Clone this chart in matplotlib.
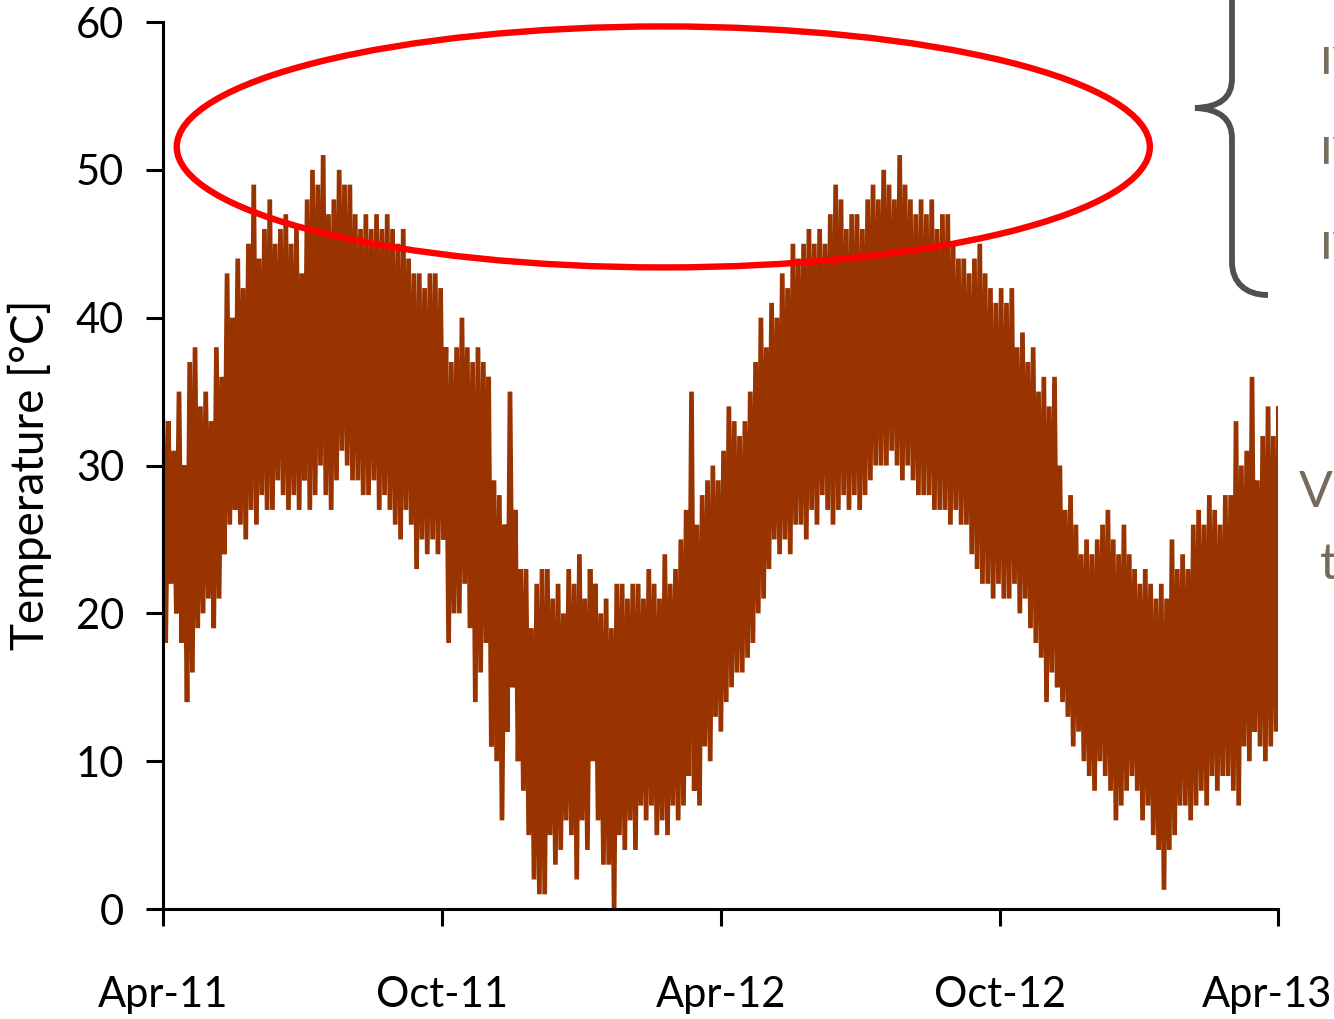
import numpy as np
import pandas as pd
import matplotlib
matplotlib.use('Agg')
import matplotlib.pyplot as plt
import matplotlib.dates as mdates
from matplotlib.patches import Ellipse, PathPatch
from matplotlib.path import Path
from matplotlib.transforms import Affine2D, ScaledTranslation

plt.rcParams['font.family'] = ['Lato', 'DejaVu Sans']

# Module temperature, one high and one low reading every 3.5 days [°C]
start_date = '2011-04-01'
temp_high = [33, 33, 31, 35, 30, 37, 38, 34, 35, 33,
             38, 36, 43, 40, 44, 42, 45, 49, 44, 46,
             48, 45, 46, 47, 45, 46, 43, 48, 50, 49,
             51, 47, 48, 50, 49, 49, 47, 46, 47, 46,
             47, 46, 47, 46, 45, 46, 44, 43, 43, 42,
             43, 43, 42, 38, 37, 38, 40, 38, 37, 38,
             37, 36, 29, 28, 26, 35, 27, 23, 23, 19,
             22, 23, 23, 21, 22, 20, 23, 22, 24, 21,
             23, 22, 20, 21, 19, 22, 22, 21, 22, 22,
             21, 23, 22, 21, 24, 22, 23, 25, 27, 35,
             26, 28, 29, 30, 29, 31, 34, 33, 32, 33,
             35, 37, 40, 38, 41, 40, 43, 42, 45, 44,
             45, 46, 45, 46, 45, 47, 49, 48, 46, 47,
             47, 46, 48, 49, 48, 50, 49, 48, 51, 49,
             48, 47, 48, 47, 48, 46, 47, 47, 45, 44,
             44, 43, 44, 45, 43, 42, 41, 42, 41, 42,
             38, 39, 37, 38, 35, 36, 34, 36, 30, 27,
             28, 26, 24, 25, 24, 25, 26, 27, 25, 24,
             26, 24, 23, 22, 23, 22, 21, 22, 21, 25,
             23, 24, 23, 26, 27, 26, 28, 27, 26, 28,
             28, 33, 30, 31, 36, 29, 32, 34, 32, 34]
temp_low = [18, 22, 20, 18, 14, 16, 19, 20, 21, 19,
            21, 24, 26, 27, 26, 25, 27, 26, 28, 27,
            27, 29, 28, 27, 28, 27, 29, 27, 28, 30,
            28, 27, 29, 31, 30, 29, 29, 28, 28, 29,
            27, 28, 27, 26, 25, 27, 26, 23, 25, 24,
            25, 24, 25, 18, 20, 20, 22, 19, 14, 16,
            18, 11, 10, 6, 12, 15, 10, 8, 5, 2,
            1, 1, 5, 3, 4, 6, 5, 2, 6, 4,
            10, 6, 3, 3, 0, 5, 4, 6, 4, 7,
            6, 7, 5, 6, 5, 7, 6, 7, 9, 8,
            7, 11, 10, 13, 12, 14, 15, 16, 16, 17,
            18, 20, 21, 23, 25, 24, 25, 24, 26, 26,
            25, 27, 26, 28, 27, 26, 27, 28, 27, 28,
            27, 28, 29, 30, 30, 30, 31, 30, 29, 30,
            29, 28, 28, 28, 27, 27, 27, 26, 27, 26,
            26, 24, 23, 22, 22, 21, 22, 21, 21, 22,
            20, 21, 19, 18, 17, 14, 16, 15, 14, 13,
            11, 12, 10, 9, 8, 10, 9, 8, 6, 7,
            8, 9, 8, 6, 7, 5, 4, 1.3, 4, 5,
            7, 7, 6, 7, 8, 7, 9, 8, 9, 9,
            8, 7, 11, 10, 12, 11, 10, 11, 12, 18]

tick_dates = ['2011-04-01', '2011-10-01', '2012-04-01', '2012-10-01', '2013-04-01']
tick_labels = ['Apr-11', 'Oct-11', 'Apr-12', 'Oct-12', 'Apr-13']

temps = np.column_stack([temp_high, temp_low]).ravel()
times = pd.date_range(start_date, periods=len(temps), freq='42h')

fig = plt.figure(figsize=(13.34, 10.19), dpi=100)
ax = fig.add_axes([0.1222, 0.1079, 0.8358, 0.8705])

ax.plot(times, temps, color='#993300', lw=3.4, solid_joinstyle='bevel')

ax.set_xlim(pd.Timestamp(tick_dates[0]), pd.Timestamp(tick_dates[-1]))
ax.set_ylim(0, 60)
ax.set_yticks(range(0, 61, 10))
ax.set_xticks([pd.Timestamp(d) for d in tick_dates])
ax.set_xticklabels(tick_labels)

for side in ['top', 'right']:
    ax.spines[side].set_visible(False)
for side in ['left', 'bottom']:
    ax.spines[side].set_linewidth(2.2)
ax.tick_params(axis='both', direction='out', length=12, width=2.2, labelsize=30)
ax.tick_params(axis='y', pad=16)
ax.tick_params(axis='x', pad=36)
ax.set_ylabel('Temperature [°C]', fontsize=33, labelpad=18)
ax.yaxis.set_label_coords(-0.1, 0.49)

# keep the last date label inside the figure
last = ax.get_xticklabels()[-1]
last.set_transform(last.get_transform() + ScaledTranslation(-11 / 100, 0, fig.dpi_scale_trans))

# highlight of the summer peaks
t0 = mdates.date2num(pd.Timestamp(start_date))
ring = Ellipse((t0 + 328, 51.55), width=638, height=16.3, fill=False,
               edgecolor='#ff0000', lw=4.6, clip_on=False, zorder=5)
ax.add_patch(ring)

# brace and side notes, in pixels from the top-left corner
px = Affine2D().scale(1, -1).translate(0, 1019).scale(1 / 1334, 1 / 1019) + fig.transFigure
brace = Path([(1268, -58), (1245, -58), (1232, -45), (1232, -25),
              (1232, 78),
              (1232, 98), (1220, 107), (1195, 108),
              (1220, 109), (1232, 119), (1232, 139),
              (1232, 262),
              (1232, 282), (1245, 295), (1268, 295)],
             [Path.MOVETO, Path.CURVE4, Path.CURVE4, Path.CURVE4,
              Path.LINETO,
              Path.CURVE4, Path.CURVE4, Path.CURVE4,
              Path.CURVE4, Path.CURVE4, Path.CURVE4,
              Path.LINETO,
              Path.CURVE4, Path.CURVE4, Path.CURVE4])
fig.patches.append(PathPatch(brace, transform=px, fill=False,
                             edgecolor='#505050', lw=4.2, capstyle='butt'))

note_color = '#776c5c'
for yc in [65, 155, 250]:
    fig.text(1301 / 1334, 1 - yc / 1019, '≥', rotation=-90, color=note_color,
             fontsize=50, ha='left', va='center')
fig.text(1299 / 1334, 1 - 493 / 1019, 'V', color=note_color, fontsize=36,
         ha='left', va='center')
fig.text(1320 / 1334, 1 - 565 / 1019, 't', color=note_color, fontsize=36,
         ha='left', va='center')

fig.savefig('out.png', dpi=100)
